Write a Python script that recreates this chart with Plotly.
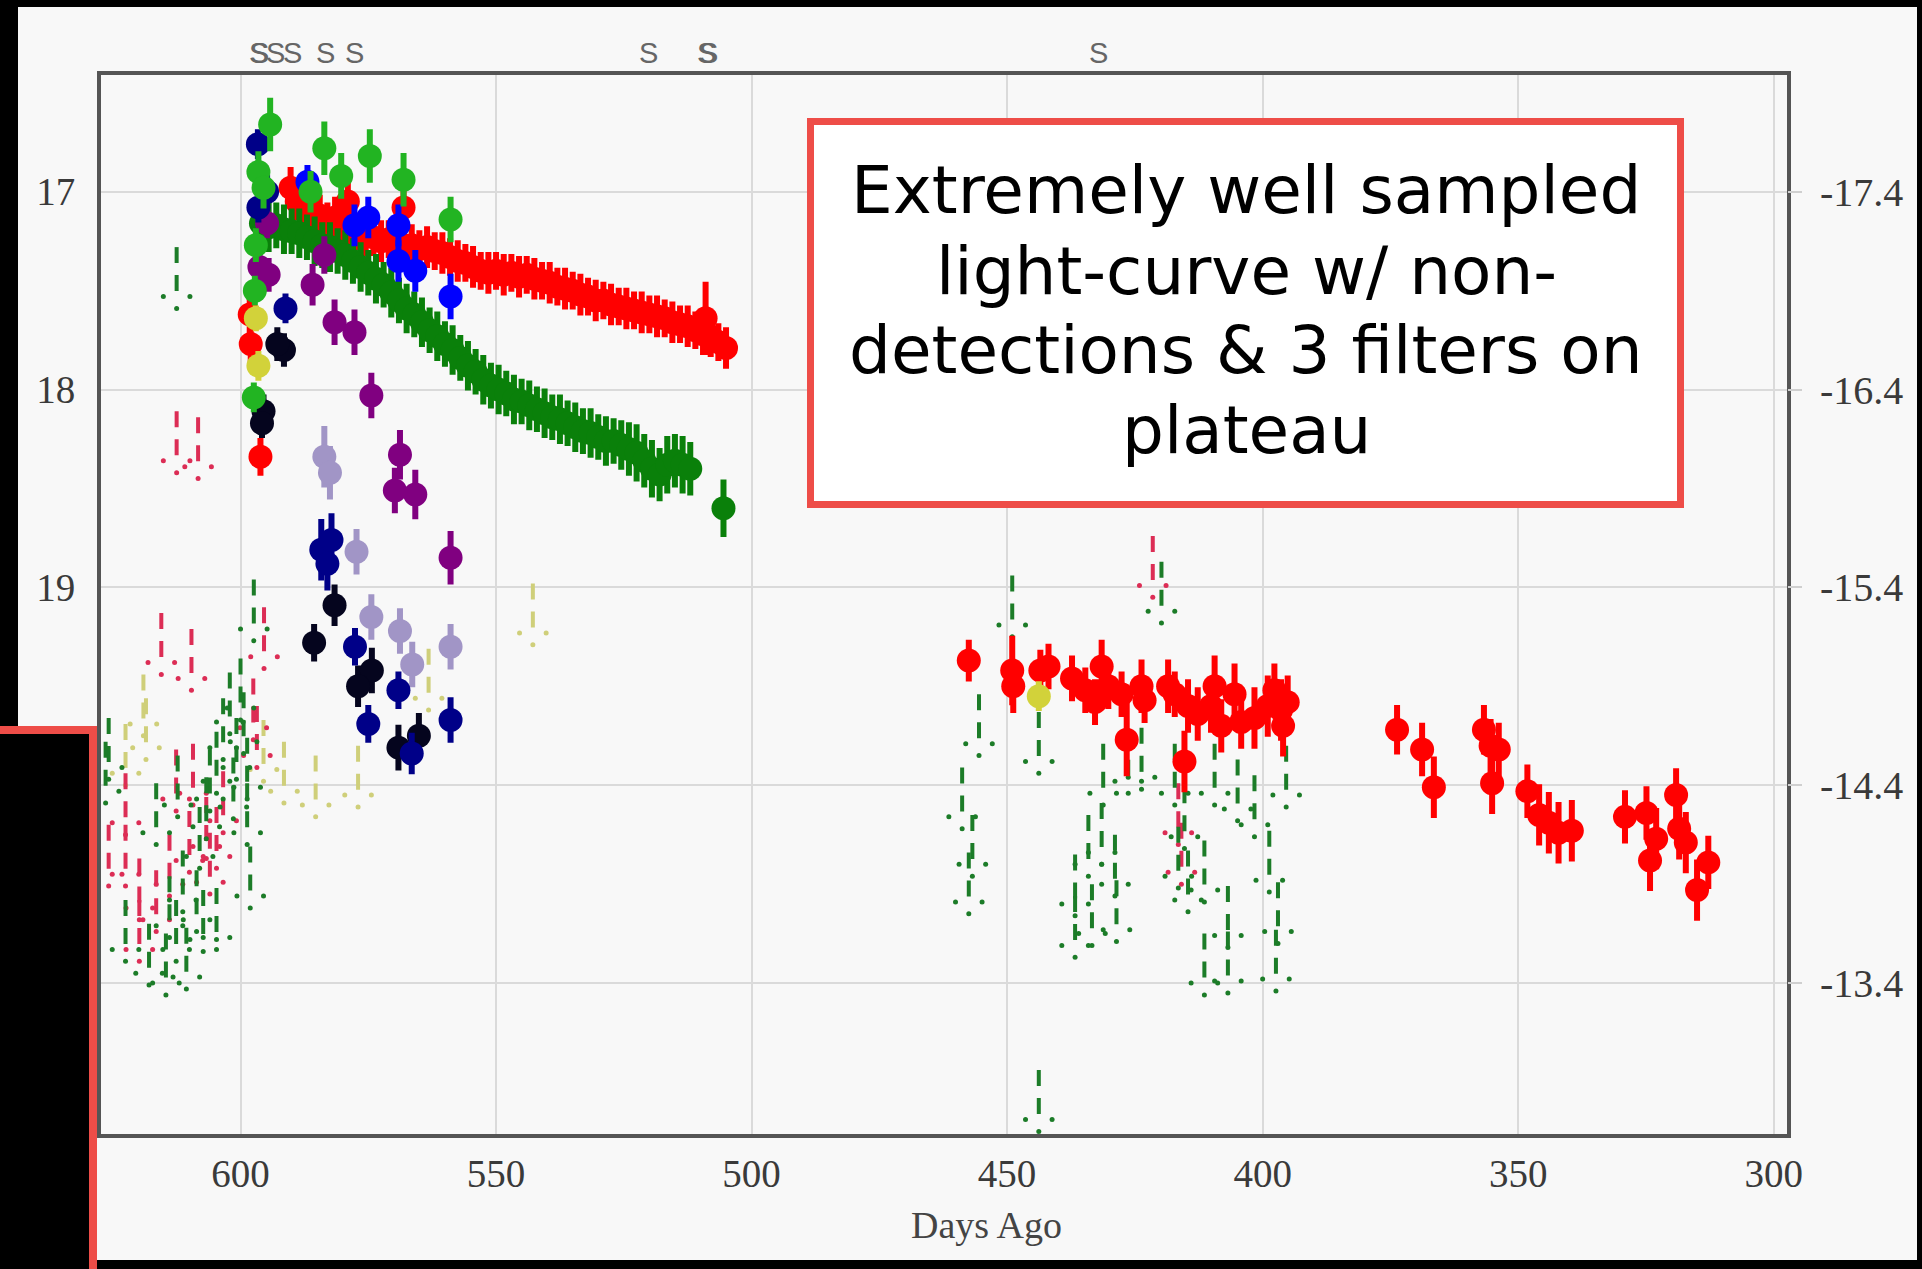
import plotly.graph_objects as go

# ---------------- canvas / plot-area geometry (pixels) ----------------
W, H = 1922, 1269
L, R, T, B = 101, 1787, 75, 1134


def xp(px):
    return (px - L) / (R - L)


def yp(py):
    return 1 - (py - T) / (B - T)


X_RANGE = [627.3, 297.4]
Y_RANGE = [21.763, 16.41]
ABS_OFFSET = 34.4

x_ticks = [600, 550, 500, 450, 400, 350, 300]
x_ticktext = ["600", "550", "500", "450", "400", "350", "300"]
y_ticks = [17, 18, 19, 20, 21]
y_ticktext = ["17", "18", "19", "", ""]
y2_ticks = [-17.4, -16.4, -15.4, -14.4, -13.4]
y2_ticktext = ["-17.4", "-16.4", "-15.4", "-14.4", "-13.4"]

spec_days = [596.5, 596.2, 593.2, 589.9, 583.3, 577.7, 520.2, 508.8, 508.4, 432.2]

# ---------------- detections ----------------
red_day = [596.1, 598.0, 598.2, 590.2, 589.0, 587.5, 586.0, 584.5, 583.0, 581.5,
           580.0, 579.0, 578.5, 577.0, 575.5, 574.0, 572.5, 571.0, 569.5, 568.1,
           568.0, 566.5, 565.0, 563.5, 562.0, 560.5, 559.0, 557.5, 556.0, 554.5,
           553.0, 551.5, 550.0, 548.5, 547.0, 545.5, 544.0, 542.5, 541.0, 539.5,
           538.0, 536.5, 535.0, 533.5, 532.0, 530.5, 529.0, 527.5, 526.0, 524.5,
           523.0, 521.5, 520.0, 518.5, 517.0, 515.5, 514.0, 512.5, 511.0, 509.5,
           509.0, 508.0, 506.5, 505.0,
           457.5, 449.0, 448.8, 443.5, 441.9, 437.3, 434.7, 431.5, 430.2, 432.8,
           427.6, 426.6, 423.7, 423.1, 418.5, 417.2, 415.3, 414.6, 412.7, 410.1,
           409.4, 408.1, 405.5, 404.2, 401.6, 399.0, 397.7, 396.4, 395.1, 396.0,
           373.7, 368.8, 366.5, 356.7, 355.4, 353.8, 355.1, 348.2, 345.9, 344.0,
           342.1, 339.5, 329.1, 324.9, 324.2, 323.0, 319.1, 318.5, 317.2, 315.0,
           312.8]
red_mag = [18.34, 17.77, 17.62, 16.98, 17.05, 17.08, 17.10, 17.12, 17.15, 17.13,
           17.16, 17.05, 17.18, 17.20, 17.22, 17.23, 17.25, 17.24, 17.26, 17.08,
           17.27, 17.27, 17.29, 17.28, 17.30, 17.31, 17.33, 17.35, 17.36, 17.38,
           17.40, 17.41, 17.40, 17.42, 17.41, 17.43, 17.42, 17.44, 17.45, 17.46,
           17.48, 17.49, 17.50, 17.52, 17.53, 17.55, 17.55, 17.57, 17.58, 17.59,
           17.60, 17.61, 17.62, 17.63, 17.64, 17.66, 17.67, 17.68, 17.70, 17.72,
           17.64, 17.73, 17.76, 17.79,
           19.37, 19.42, 19.50, 19.42, 19.40, 19.46, 19.52, 19.40, 19.50, 19.58,
           19.54, 19.77, 19.50, 19.57, 19.50, 19.54, 19.88, 19.60, 19.64, 19.60,
           19.50, 19.70, 19.54, 19.68, 19.66, 19.60, 19.52, 19.62, 19.58, 19.70,
           19.72, 19.82, 20.01, 19.72, 19.80, 19.82, 19.99, 20.03, 20.15, 20.19,
           20.24, 20.23, 20.16, 20.14, 20.38, 20.27, 20.05, 20.22, 20.29, 20.53,
           20.39]
red_err = [0.08, 0.09, 0.09, 0.09, 0.08, 0.09, 0.08, 0.09, 0.08, 0.09,
           0.08, 0.12, 0.09, 0.08, 0.09, 0.08, 0.09, 0.08, 0.09, 0.17,
           0.08, 0.09, 0.08, 0.09, 0.08, 0.09, 0.08, 0.09, 0.08, 0.09,
           0.08, 0.09, 0.08, 0.09, 0.08, 0.09, 0.08, 0.09, 0.08, 0.09,
           0.08, 0.09, 0.08, 0.09, 0.08, 0.09, 0.08, 0.09, 0.08, 0.09,
           0.08, 0.09, 0.08, 0.09, 0.08, 0.09, 0.08, 0.09, 0.08, 0.09,
           0.17, 0.09, 0.08, 0.09,
           0.09, 0.16, 0.12, 0.09, 0.10, 0.10, 0.10, 0.12, 0.10, 0.10,
           0.10, 0.17, 0.12, 0.10, 0.12, 0.10, 0.14, 0.12, 0.12, 0.12,
           0.14, 0.12, 0.14, 0.12, 0.14, 0.14, 0.12, 0.14, 0.12, 0.14,
           0.11, 0.12, 0.14, 0.11, 0.12, 0.12, 0.14, 0.12, 0.14, 0.14,
           0.14, 0.14, 0.12, 0.12, 0.14, 0.14, 0.12, 0.14, 0.14, 0.14,
           0.12]

green_day = [596.0, 594.5, 593.0, 591.5, 590.0, 588.5, 587.0, 585.5, 584.0, 582.5,
             581.0, 579.5, 578.0, 576.5, 575.0, 573.5, 572.0, 570.5, 569.0, 567.5,
             566.0, 564.5, 563.0, 561.5, 560.0, 558.5, 557.0, 555.5, 554.0, 552.5,
             551.0, 549.5, 548.0, 546.5, 545.0, 543.5, 542.0, 540.5, 539.0, 537.5,
             536.0, 534.5, 533.0, 531.5, 530.0, 528.5, 527.0, 525.5, 524.0, 522.5,
             521.0, 519.5, 518.0, 516.5, 515.0, 513.5, 512.0, 505.5]
green_mag = [17.16, 17.18, 17.17, 17.19, 17.20, 17.21, 17.23, 17.25, 17.27, 17.28,
             17.30, 17.32, 17.35, 17.38, 17.41, 17.44, 17.47, 17.51, 17.55, 17.59,
             17.62, 17.66, 17.70, 17.73, 17.77, 17.80, 17.84, 17.88, 17.91, 17.95,
             17.98, 18.00, 18.02, 18.05, 18.06, 18.08, 18.10, 18.12, 18.14, 18.15,
             18.17, 18.19, 18.21, 18.22, 18.24, 18.26, 18.26, 18.28, 18.30, 18.32,
             18.36, 18.40, 18.43, 18.38, 18.36, 18.38, 18.40, 18.60]
green_err = [0.10, 0.11, 0.10, 0.11, 0.10, 0.11, 0.10, 0.11, 0.10, 0.11,
             0.10, 0.11, 0.10, 0.11, 0.10, 0.11, 0.10, 0.11, 0.10, 0.11,
             0.10, 0.11, 0.10, 0.11, 0.10, 0.11, 0.10, 0.11, 0.10, 0.11,
             0.10, 0.11, 0.10, 0.11, 0.10, 0.11, 0.10, 0.11, 0.10, 0.11,
             0.10, 0.11, 0.10, 0.11, 0.10, 0.11, 0.10, 0.11, 0.12, 0.13,
             0.12, 0.13, 0.12, 0.13, 0.12, 0.13, 0.12, 0.13]

lime_day = [594.2, 596.5, 595.5, 597.0, 597.2, 597.4, 586.3, 583.6, 580.3, 574.7, 568.1, 558.9]
lime_mag = [16.66, 16.90, 16.98, 17.27, 17.50, 18.04, 17.00, 16.78, 16.92, 16.82, 16.94, 17.14]
lime_err = [0.12, 0.09, 0.09, 0.07, 0.06, 0.06, 0.09, 0.12, 0.10, 0.12, 0.12, 0.10]

navy_day = [596.6, 594.8, 596.5, 591.2, 584.2, 582.2, 583.0, 577.6, 569.1, 575.0, 566.5, 558.9]
navy_mag = [16.76, 17.00, 17.08, 17.59, 18.81, 18.76, 18.88, 19.30, 19.52, 19.69, 19.84, 19.67]
navy_err = [0.06, 0.07, 0.06, 0.06, 0.14, 0.12, 0.12, 0.08, 0.08, 0.08, 0.09, 0.10]

black_day = [591.5, 592.8, 595.5, 595.8, 581.6, 585.6, 574.3, 577.0, 569.1, 565.1]
black_mag = [17.80, 17.77, 18.11, 18.17, 19.09, 19.28, 19.42, 19.50, 19.81, 19.75]
black_err = [0.07, 0.07, 0.07, 0.06, 0.09, 0.08, 0.10, 0.09, 0.10, 0.10]

blue_day = [586.9, 577.7, 575.0, 569.1, 569.1, 565.8, 558.9]
blue_mag = [16.95, 17.17, 17.13, 17.17, 17.35, 17.40, 17.53]
blue_err = [0.07, 0.09, 0.09, 0.09, 0.09, 0.09, 0.10]

purple_day = [594.8, 596.3, 594.5, 583.6, 585.9, 581.6, 577.7, 574.4, 568.8, 569.8, 565.8, 558.9]
purple_mag = [17.16, 17.38, 17.42, 17.32, 17.47, 17.66, 17.71, 18.03, 18.33, 18.51, 18.53, 18.85]
purple_err = [0.06, 0.07, 0.07, 0.08, 0.09, 0.10, 0.10, 0.10, 0.11, 0.10, 0.11, 0.12]

lav_day = [583.6, 582.5, 577.3, 574.4, 568.8, 566.4, 558.9]
lav_mag = [18.34, 18.42, 18.82, 19.15, 19.22, 19.39, 19.30]
lav_err = [0.14, 0.12, 0.10, 0.10, 0.10, 0.10, 0.10]

yellow_day = [597.0, 596.5, 443.8]
yellow_mag = [17.64, 17.88, 19.55]
yellow_err = [0.05, 0.06, 0.06]

# ---------------- non-detections (upper limits, arrow tip) ----------------
glim_day = [612.5, 597.4, 600.0, 602.1, 599.4, 603.4, 600.8, 604.7, 598.7, 606.0,
            601.4, 606.7, 598.7, 598.1, 608.0, 611.3, 608.6, 613.9, 610.6, 614.6,
            617.9, 612.6, 607.3, 604.7, 622.5, 625.8, 626.4, 612.3, 616.5,
            455.5, 458.8, 456.8, 457.5, 449.0, 443.8, 443.8, 436.7, 433.4, 428.6,
            431.2, 431.5, 434.1, 428.9, 436.7, 426.3, 423.7, 419.8, 417.2, 415.3,
            416.5, 414.6, 411.4, 406.8, 411.4, 406.8, 404.9, 401.6, 398.7, 397.4,
            397.0, 409.4, 395.4]
glim_mag = [17.59, 19.27, 19.67, 19.74, 19.84, 19.87, 19.97, 20.04, 20.07, 20.13,
            20.17, 20.27, 20.30, 20.62, 20.42, 20.64, 20.74, 20.77, 21.03, 21.06,
            21.01, 20.89, 20.84, 20.83, 20.89, 19.97, 20.09, 20.16, 20.30,
            19.85, 20.22, 20.46, 20.65, 19.25, 19.94, 21.75, 20.87, 20.81, 20.79,
            20.10, 20.40, 20.46, 20.56, 20.66, 20.04, 20.02, 19.18, 20.10, 20.32,
            20.52, 20.64, 21.06, 21.05, 20.59, 20.82, 20.18, 20.26, 20.54, 21.04,
            20.80, 20.10, 20.11]

rlim_day = [612.5, 608.3, 615.5, 609.6, 595.4, 603.4, 606.7, 604.7, 613.9, 619.8,
            616.5, 622.5, 625.8, 622.5, 619.8, 606.0, 610.0, 612.6, 609.3, 597.5,
            596.8, 421.5, 416.5, 415.9]
rlim_mag = [18.42, 18.45, 19.44, 19.52, 19.41, 20.24, 20.37, 20.42, 20.56, 20.68,
            20.74, 20.51, 20.51, 20.25, 20.89, 20.55, 20.44, 20.13, 20.10, 19.77,
            19.91, 19.05, 20.30, 20.50]

ylim_day = [542.8, 563.2, 577.0, 585.3, 591.5, 595.5, 618.5, 622.5, 619.0]
ylim_mag = [19.29, 19.62, 20.11, 20.16, 20.09, 19.98, 19.87, 20.00, 19.75]

# ---------------- styles ----------------
RED = "#ff0000"
DKGREEN = "#0a800a"
LIME = "#22b422"
NAVY = "#000088"
BLACKISH = "#05051e"
BLUE = "#0000ff"
PURPLE = "#800080"
LAVENDER = "#a195c6"
YELLOW = "#d2d23a"
RLIM = "#dc2d55"
GLIM = "#1c7c28"
YLIM = "#cfcf7a"
FRAME_RED = "#ee4d48"
BG = "#f8f8f8"

SHAFT_TOP = 0.31     # mag above the tip where the dashed shaft starts
SHAFT_END = 0.08     # mag above the tip where the shaft ends
HEAD_DX = 2.6        # days, half width of the arrow head
HEAD_DY = 0.06       # mag, arrow head side dots above the tip

fig = go.Figure()


def add_limits(days, mags, color):
    sx, sy, dx, dy = [], [], [], []
    for d, m in zip(days, mags):
        sx += [d, d, None]
        sy += [m - SHAFT_TOP, m - SHAFT_END, None]
        dx += [d, d - HEAD_DX, d + HEAD_DX]
        dy += [m, m - HEAD_DY, m - HEAD_DY]
    fig.add_trace(go.Scatter(x=sx, y=sy, mode="lines",
                             line=dict(color=color, width=4, dash="16px,12px"),
                             hoverinfo="skip", showlegend=False))
    fig.add_trace(go.Scatter(x=dx, y=dy, mode="markers",
                             marker=dict(color=color, size=5),
                             hoverinfo="skip", showlegend=False))


add_limits(ylim_day, ylim_mag, YLIM)
add_limits(rlim_day, rlim_mag, RLIM)
add_limits(glim_day, glim_mag, GLIM)


def add_det(days, mags, errs, color, size=24):
    fig.add_trace(go.Scatter(
        x=days, y=mags, mode="markers",
        marker=dict(color=color, size=size, line=dict(width=0)),
        error_y=dict(type="data", array=errs, color=color, thickness=6, width=3),
        showlegend=False))


add_det(red_day, red_mag, red_err, RED)
add_det(green_day, green_mag, green_err, DKGREEN)
add_det(lav_day, lav_mag, lav_err, LAVENDER)
add_det(purple_day, purple_mag, purple_err, PURPLE)
add_det(black_day, black_mag, black_err, BLACKISH)
add_det(navy_day, navy_mag, navy_err, NAVY)
add_det(blue_day, blue_mag, blue_err, BLUE)
add_det(lime_day, lime_mag, lime_err, LIME)
add_det(yellow_day, yellow_mag, yellow_err, YELLOW)

# invisible trace carrying the absolute-magnitude axis
fig.add_trace(go.Scatter(x=red_day, y=[m - ABS_OFFSET for m in red_mag], yaxis="y2",
                         mode="markers", marker=dict(opacity=0), hoverinfo="skip",
                         showlegend=False))

tickfont = dict(family="Liberation Serif, Times New Roman, serif", size=39, color="#3a3a3a")
rtickfont = dict(family="Liberation Serif, Times New Roman, serif", size=40, color="#3a3a3a")

fig.update_layout(
    width=W, height=H,
    margin=dict(l=L, r=W - R, t=T, b=H - B, pad=0),
    paper_bgcolor="#000000",
    plot_bgcolor="rgba(0,0,0,0)",
    xaxis=dict(range=X_RANGE, tickvals=x_ticks, ticktext=x_ticktext,
               showgrid=True, gridcolor="#dadada", gridwidth=2,
               showline=True, mirror=True, linecolor="#555555", linewidth=4,
               ticks="", tickfont=tickfont, ticklabelstandoff=2, zeroline=False),
    yaxis=dict(range=Y_RANGE, tickvals=y_ticks, ticktext=y_ticktext,
               showgrid=True, gridcolor="#dadada", gridwidth=2,
               showline=True, mirror=True, linecolor="#555555", linewidth=4,
               ticks="", tickfont=tickfont, ticklabelstandoff=14, zeroline=False),
    yaxis2=dict(range=[Y_RANGE[0] - ABS_OFFSET, Y_RANGE[1] - ABS_OFFSET],
                overlaying="y", side="right", tickvals=y2_ticks, ticktext=y2_ticktext,
                showgrid=False, showline=False, zeroline=False,
                ticks="outside", ticklen=14, tickcolor="#cfcfcf", tickwidth=2,
                tickfont=rtickfont, ticklabelstandoff=10),
)

shapes = [
    # light page area inside the black frame
    dict(type="rect", xref="paper", yref="paper", layer="below",
         x0=xp(18), x1=xp(1917), y0=yp(1260), y1=yp(7),
         fillcolor=BG, line=dict(width=0)),
    # white callout box
    dict(type="rect", xref="paper", yref="paper", layer="above",
         x0=xp(810.5), x1=xp(1680.5), y0=yp(504.5), y1=yp(121.5),
         fillcolor="#ffffff", line=dict(color=FRAME_RED, width=7)),
    # black panel bottom-left
    dict(type="rect", xref="paper", yref="paper", layer="above",
         x0=xp(-20), x1=xp(93), y0=yp(1290), y1=yp(730),
         fillcolor="#000000", line=dict(color=FRAME_RED, width=8)),
]
fig.update_layout(shapes=shapes)

annotations = []
for d in spec_days:
    annotations.append(dict(x=d, y=yp(53), xref="x", yref="paper", text="S",
                            showarrow=False, xanchor="center", yanchor="middle",
                            font=dict(family="Liberation Sans, Arial, sans-serif",
                                      size=29, color="#666666")))

annotations.append(dict(x=xp(986), y=yp(1225), xref="paper", yref="paper",
                        text="Days Ago", showarrow=False, xanchor="center", yanchor="middle",
                        font=dict(family="Liberation Serif, Times New Roman, serif",
                                  size=38, color="#444444")))

callout_lines = ["Extremely well sampled", "light-curve w/ non-",
                 "detections & 3 filters on", "plateau"]
callout_y = [190, 271, 351, 430]
for txt, ly in zip(callout_lines, callout_y):
    annotations.append(dict(x=xp(1246), y=yp(ly), xref="paper", yref="paper",
                            text=txt, showarrow=False, xanchor="center", yanchor="middle",
                            font=dict(family="DejaVu Sans, sans-serif", size=66,
                                      color="#000000")))

fig.update_layout(annotations=annotations)

fig.write_html("out.html", config={"displayModeBar": False},
               post_script="document.body.style.margin='0';document.body.style.overflow='hidden';")
